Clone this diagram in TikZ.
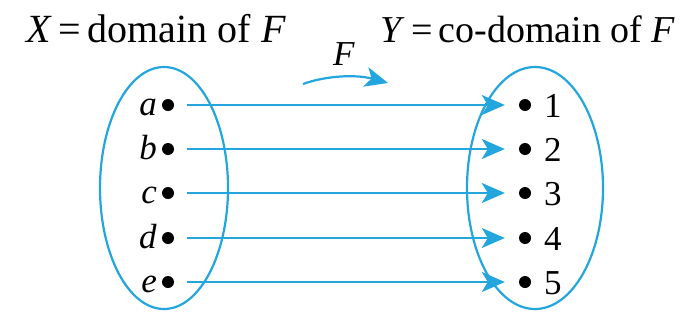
\documentclass[tikz,border=0pt]{standalone}
\usepackage{fontspec}
\setmainfont{Liberation Serif}
\usetikzlibrary{arrows.meta}
\definecolor{fblue}{RGB}{35,165,222}
\begin{document}
\begin{tikzpicture}[x=1pt,y=-1pt,
  set/.style={draw=fblue,line width=2.2pt},
  pt/.style={circle,fill=black,inner sep=0pt,minimum size=12pt},
  map/.style={draw=fblue,line width=2.2pt,-{Stealth[length=23pt,width=20pt,inset=6pt]}},
  ttl/.style={font=\fontsize{40}{46}\selectfont,inner sep=0pt},
  lbl/.style={font=\fontsize{35}{40}\selectfont,inner sep=0pt}]
\useasboundingbox[fill=white] (0,0) rectangle (692,330);
\node[ttl,anchor=base west] (tx) at (26,42) {\textit{X}\,=\,domain of \textit{F}};
\node[ttl,font=\fontsize{38}{44}\selectfont,anchor=base west] (ty) at (380,42) {\textit{Y}\,=\,co-domain of \textit{F}};
\node[font=\fontsize{35}{40}\selectfont,inner sep=0pt,anchor=base] (tf) at (344,65) {\textit{F}};
\coordinate (fs) at (303,84);
\coordinate (fe) at (388,83);
\draw[map] (fs) .. controls (325,76) and (355,74) .. (fe);
\draw[set] (164,188) ellipse [x radius=64,y radius=121];
\draw[set] (535,188) ellipse [x radius=68,y radius=121];
\foreach \n/\l/\r/\y in {A/a/1/105,B/b/2/149,C/c/3/193,D/d/4/238,E/e/5/282}{
  \node[pt] (L\n) at (168,\y) {};
  \node[pt] (R\n) at (525,\y) {};
  \node[lbl,anchor=base east] (l\n) at (157,\y+10) {\textit{\l}};
  \node[lbl,anchor=base west] (r\n) at (544,\y+12) {\r};
  \draw[map] ([xshift=13pt]L\n.east) -- ([xshift=-14pt]R\n.west);
}
\end{tikzpicture}
\end{document}
